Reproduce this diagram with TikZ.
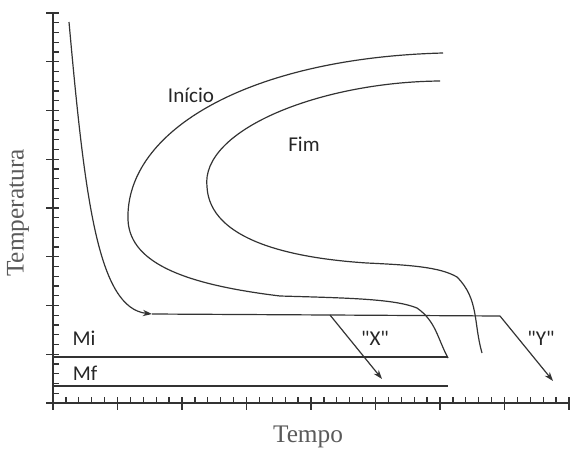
\documentclass[tikz,border=0pt]{standalone}
\usepackage{fontspec}
\setmainfont{Liberation Serif}
\newfontfamily\curvefont{Carlito}
\usepackage{tikz}
\usetikzlibrary{arrows.meta}
\definecolor{CurveGray}{HTML}{333333}
\definecolor{AxisText}{HTML}{5A5A5A}

\begin{document}
\begin{tikzpicture}[x=0.025cm, y=-0.025cm,
				curve/.style={draw=CurveGray, line width=0.85pt},
				axis/.style={draw=CurveGray, line width=0.9pt},
				arrow/.style={curve, -{Stealth[length=6.5pt, width=4.5pt]}},
				lbl/.style={font=\curvefont\fontsize{15}{17}\selectfont, text=black!85, inner sep=0pt},
				axlbl/.style={font=\fontsize{18}{20}\selectfont, text=AxisText, inner sep=0pt}
				]
				\useasboundingbox (0,0) rectangle (577,455);
				\coordinate (o) at (53,403);
				\draw[axis] (53,13) -- (o) -- (569,403);
				\foreach \k in {0,...,8} {
					\draw[axis] (46,13+48.75*\k) -- (59,13+48.75*\k);
					\draw[axis] (53+64.5*\k,397) -- (53+64.5*\k,410);
				}
				\foreach \k in {1,...,39} {
					\draw[axis] (53,13+9.75*\k) -- (59,13+9.75*\k);
				}
				\foreach \k in {1,...,39} {
					\draw[axis] (53+12.9*\k,397) -- (53+12.9*\k,403);
				}
				\node[axlbl, rotate=90] (temp) at (18,213) {Temperatura};
				\node[axlbl] (tempo) at (308,437) {Tempo};
				\coordinate (ini0) at (443,53);
				\coordinate (ini1) at (128,220);
				\coordinate (ini2) at (280,296);
				\coordinate (ini3) at (417,308);
				\coordinate (ini4) at (448,358);
				\draw[curve] (ini0) .. controls (250,58) and (125,130) .. (ini1)
					.. controls (130,265) and (190,285) .. (ini2)
					.. controls (350,298) and (395,299) .. (ini3)
					to[out=-35, in=118] (ini4);
				\coordinate (fim0) at (440,81);
				\coordinate (fim1) at (207,187);
				\coordinate (fim2) at (367,263);
				\coordinate (fim3) at (457,277);
				\coordinate (fim4) at (482,353);
				\draw[curve] (fim0) .. controls (320,82) and (200,130) .. (fim1)
					.. controls (210,240) and (290,258) .. (fim2)
					.. controls (410,265) and (440,267) .. (fim3)
					to[out=-45, in=106] (fim4);
				\coordinate (start) at (69,22);
				\coordinate (knee) at (152,314);
				\coordinate (split) at (330,315);
				\coordinate (turn) at (500,316);
				\coordinate (xend) at (382,379);
				\coordinate (yend) at (553,381);
				\draw[arrow] (start) .. controls (85,200) and (98,308) .. (knee);
				\draw[curve] (knee) -- (split) -- (turn);
				\draw[arrow] (split) -- (xend);
				\draw[arrow] (turn) -- (yend);
				\coordinate (mi0) at (53,357);
				\coordinate (mi1) at (448,357);
				\coordinate (mf0) at (53,386);
				\coordinate (mf1) at (448,386);
				\draw[curve] (mi0) -- (mi1);
				\draw[curve] (mf0) -- (mf1);
				\node[lbl] (inicio) at (191,95) {Início};
				\node[lbl] (fim) at (304,144) {Fim};
				\node[lbl] (mi) at (84,338) {Mi};
				\node[lbl] (mf) at (85,373) {Mf};
				\node[lbl] (lx) at (375,338) {"X"};
				\node[lbl] (ly) at (541,338) {"Y"};
			\end{tikzpicture}
\end{document}
